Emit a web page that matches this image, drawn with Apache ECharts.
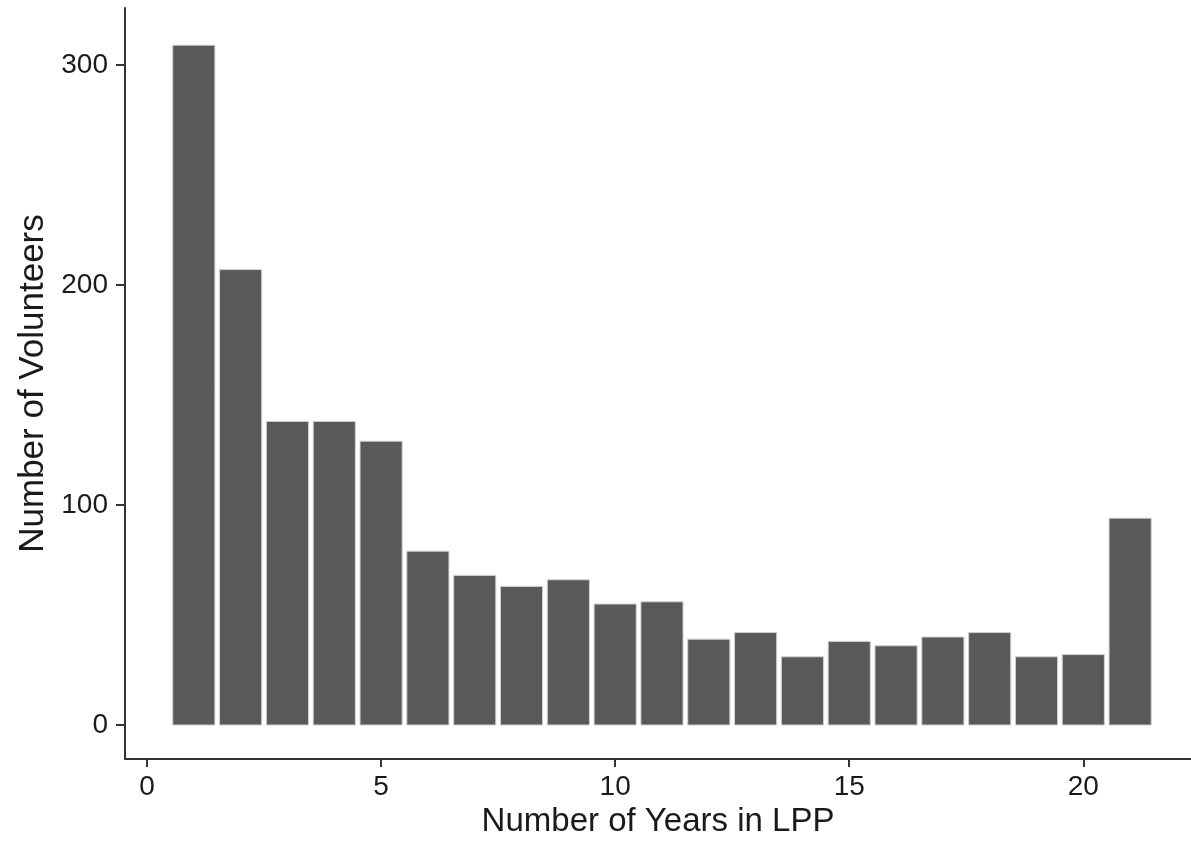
<!DOCTYPE html>
<html>
<head>
<meta charset="utf-8">
<script src="https://cdn.jsdelivr.net/npm/echarts@6/dist/echarts.min.js"></script>
<style>
html,body{margin:0;padding:0;background:#fff;}
#chart{width:1191px;height:845px;}
</style>
</head>
<body>
<div id="chart"></div>
<script>
const years = [1,2,3,4,5,6,7,8,9,10,11,12,13,14,15,16,17,18,19,20,21];
const volunteers = [309,207,138,138,129,79,68,63,66,55,56,39,42,31,38,36,40,42,31,32,94];
const xTicks = [0,5,10,15,20];
const yTicks = [0,100,200,300];
const xTitle = 'Number of Years in LPP';
const yTitle = 'Number of Volunteers';

const data = years.map((y, i) => [y, volunteers[i]]);
const FONT = '"Liberation Sans", Arial, Helvetica, sans-serif';
const chart = echarts.init(document.getElementById('chart'), null, {renderer: 'canvas'});
chart.setOption({
  animation: false,
  backgroundColor: '#ffffff',
  grid: {left: 125, right: 0, top: 8, bottom: 86, containLabel: false},
  xAxis: {
    type: 'value', min: -0.47, max: 22.3,
    name: xTitle, nameLocation: 'middle', nameGap: 37,
    nameTextStyle: {fontFamily: FONT, fontSize: 33, color: '#1a1a1a'},
    axisLine: {show: true, onZero: false, lineStyle: {color: '#333', width: 2}},
    axisTick: {show: true, length: 8, customValues: xTicks, lineStyle: {color: '#333', width: 2}},
    axisLabel: {customValues: xTicks, margin: 14, fontFamily: FONT, fontSize: 28, color: '#1a1a1a'},
    splitLine: {show: false}
  },
  yAxis: {
    type: 'value', min: -15.45, max: 325.9,
    name: yTitle, nameLocation: 'middle', nameGap: 72, nameRotate: 90,
    nameTextStyle: {fontFamily: FONT, fontSize: 35, color: '#1a1a1a'},
    axisLine: {show: true, onZero: false, lineStyle: {color: '#333', width: 2}},
    axisTick: {show: true, length: 9, customValues: yTicks, lineStyle: {color: '#333', width: 2}},
    axisLabel: {customValues: yTicks, margin: 17, fontFamily: FONT, fontSize: 28, color: '#1a1a1a'},
    splitLine: {show: false}
  },
  series: [{
    type: 'custom',
    data: data,
    clip: true,
    renderItem: function (params, api) {
      const x = api.value(0), v = api.value(1);
      const p0 = api.coord([x - 0.45, v]);
      const p1 = api.coord([x + 0.45, 0]);
      return {
        type: 'rect',
        shape: {x: p0[0], y: p0[1], width: p1[0] - p0[0], height: p1[1] - p0[1]},
        style: {fill: '#595959', stroke: '#d0d0d0', lineWidth: 1}
      };
    }
  }]
});
</script>
</body>
</html>
